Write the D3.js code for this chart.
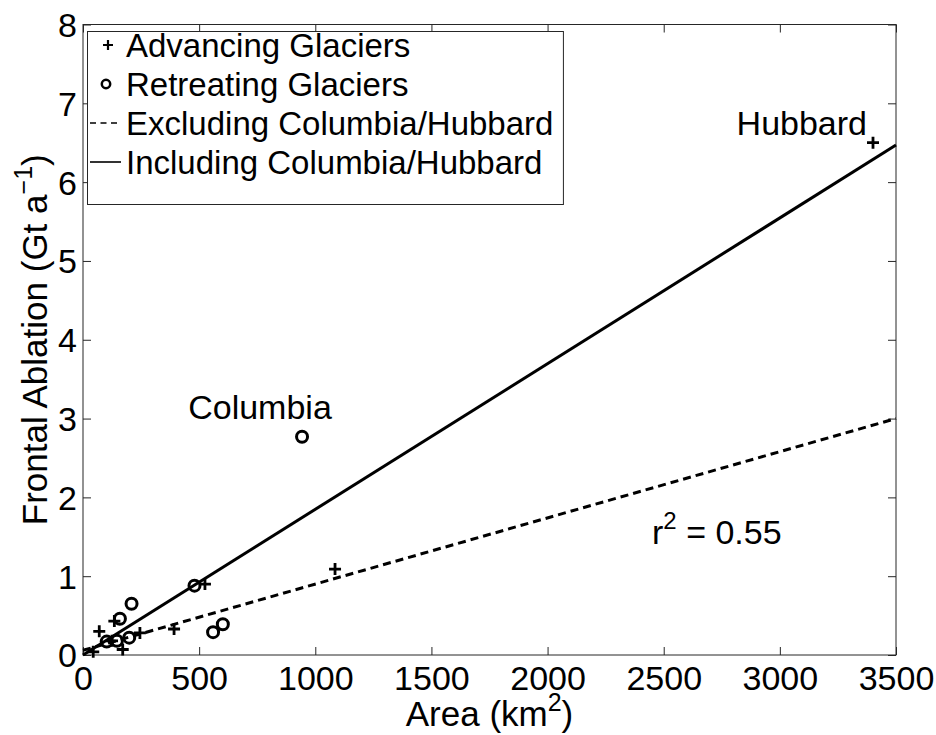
<!DOCTYPE html>
<html><head><meta charset="utf-8">
<script src="https://cdn.jsdelivr.net/npm/d3@7"></script>
<style>body{margin:0;background:#fff}svg{font-family:"Liberation Sans",Arial,sans-serif}</style>
</head><body><svg id="c" width="936" height="735"></svg>
<script>
// Data (area km^2, frontal ablation Gt/a)
const advX = [44, 70, 135, 171, 125, 245, 392, 525, 1085, 3401];
const advY = [0.04, 0.30, 0.43, 0.07, 0.18, 0.28, 0.33, 0.90, 1.09, 6.50];
const retX = [102, 146, 199, 159, 209, 480, 560, 602, 943];
const retY = [0.17, 0.18, 0.22, 0.46, 0.65, 0.88, 0.29, 0.39, 2.77];
// regression lines: [x, y] end points
const fitExcl = [[0, 0.06], [3500, 3.0]];
const fitIncl = [[0, 0.0], [3500, 6.47]];
const xTicks = [0, 500, 1000, 1500, 2000, 2500, 3000, 3500];
const yTicks = [0, 1, 2, 3, 4, 5, 6, 7, 8];
const legendLabels = ["Advancing Glaciers", "Retreating Glaciers", "Excluding Columbia/Hubbard", "Including Columbia/Hubbard"];

const svg = d3.select("#c");
const L = 83, R = 896, T = 24.5, B = 655;
const x = d3.scaleLinear().domain([0, 3500]).range([L, R]);
const y = d3.scaleLinear().domain([0, 8]).range([B, T]);
const FS = 34;
const axCol = "#262626";
const FF = '"Liberation Sans",Arial,sans-serif';

// frame
svg.append("rect").attr("x", L).attr("y", T).attr("width", R - L).attr("height", B - T)
  .attr("fill", "none").attr("stroke", axCol).attr("stroke-width", 1);

// axes
const gx = svg.append("g").attr("transform", `translate(0,${B})`)
  .call(d3.axisBottom(x).tickValues(xTicks).tickSizeInner(-8).tickSizeOuter(0).tickPadding(11).tickFormat(d3.format("d")));
const gxt = svg.append("g").attr("transform", `translate(0,${T})`)
  .call(d3.axisTop(x).tickValues(xTicks).tickSizeInner(-8).tickSizeOuter(0).tickFormat(""));
const gy = svg.append("g").attr("transform", `translate(${L},0)`)
  .call(d3.axisLeft(y).tickValues(yTicks).tickSizeInner(-8).tickSizeOuter(0).tickPadding(6).tickFormat(d3.format("d")));
const gyr = svg.append("g").attr("transform", `translate(${R},0)`)
  .call(d3.axisRight(y).tickValues(yTicks).tickSizeInner(-8).tickSizeOuter(0).tickFormat(""));
[gx, gxt, gy, gyr].forEach(g => {
  g.select(".domain").remove();
  g.selectAll("line").attr("stroke", axCol);
  g.selectAll("text").attr("font-size", FS).attr("fill", "#000").attr("font-family", FF);
});
gx.selectAll("text").attr("dy", "0.71em");
gy.selectAll("text").attr("dy", "0.35em");

// lines
const line = d3.line().x(d => x(d[0])).y(d => y(d[1]));
svg.append("path").attr("d", line(fitIncl)).attr("stroke", "#000").attr("stroke-width", 3).attr("fill", "none");
svg.append("path").attr("d", line(fitExcl)).attr("stroke", "#000").attr("stroke-width", 3)
  .attr("stroke-dasharray", "8,5").attr("fill", "none");

// markers
const plus = (g, cx, cy, s, w) => {
  g.append("path").attr("d", `M${cx - s},${cy}H${cx + s}M${cx},${cy - s}V${cy + s}`)
    .attr("stroke", "#000").attr("stroke-width", w).attr("fill", "none");
};
const pts = svg.append("g");
retX.forEach((v, i) => {
  pts.append("circle").attr("cx", x(v)).attr("cy", y(retY[i])).attr("r", 5.5)
    .attr("fill", "none").attr("stroke", "#000").attr("stroke-width", 3);
});
advX.forEach((v, i) => plus(pts, x(v), y(advY[i]), 6, 2.8));

// annotations
svg.append("text").attr("x", 867).attr("y", 135).attr("text-anchor", "end").attr("font-size", FS).text("Hubbard");
svg.append("text").attr("x", 260).attr("y", 419).attr("text-anchor", "middle").attr("font-size", FS).text("Columbia");
const r2 = svg.append("text").attr("x", 652).attr("y", 544).attr("font-size", FS);
r2.append("tspan").text("r");
r2.append("tspan").attr("dy", -15).attr("font-size", 24).text("2");
r2.append("tspan").attr("dy", 15).text(" = 0.55");

// axis labels
const LBS = 35;
const xl = svg.append("text").attr("x", (L + R) / 2).attr("y", 726).attr("text-anchor", "middle").attr("font-size", LBS);
xl.append("tspan").text("Area (km");
xl.append("tspan").attr("dy", -15).attr("font-size", 25).text("2");
xl.append("tspan").attr("dy", 15).text(")");
const yl = svg.append("text").attr("transform", `translate(47,${(T + B) / 2}) rotate(-90)`).attr("text-anchor", "middle").attr("font-size", LBS);
yl.append("tspan").text("Frontal Ablation (Gt a");
yl.append("tspan").attr("dy", -15).attr("font-size", 25).text("\u22121");
yl.append("tspan").attr("dy", 15).text(")");

// legend
const LFS = 33;
const lg = svg.append("g");
const box = lg.append("rect").attr("x", 87.5).attr("y", 31.5).attr("height", 173)
  .attr("fill", "#fff").attr("stroke", axCol).attr("stroke-width", 1);
const rowB = [57, 96, 135, 174];
let maxR = 0;
legendLabels.forEach((t, i) => {
  const tx = lg.append("text").attr("x", 126).attr("y", rowB[i]).attr("font-size", LFS).text(t);
  maxR = Math.max(maxR, 126 + tx.node().getComputedTextLength());
});
box.attr("width", maxR + 10 - 87.5);
const mid = i => rowB[i] - 12;
plus(lg, 108, mid(0), 5, 2.2);
lg.append("circle").attr("cx", 106).attr("cy", mid(1)).attr("r", 4.2).attr("fill", "none").attr("stroke", "#000").attr("stroke-width", 2.5);
lg.append("line").attr("x1", 90).attr("x2", 121).attr("y1", mid(2)).attr("y2", mid(2)).attr("stroke", "#000").attr("stroke-width", 1.6).attr("stroke-dasharray", "6,4.5");
lg.append("line").attr("x1", 90).attr("x2", 121).attr("y1", mid(3)).attr("y2", mid(3)).attr("stroke", "#000").attr("stroke-width", 1.6);
</script></body></html>
